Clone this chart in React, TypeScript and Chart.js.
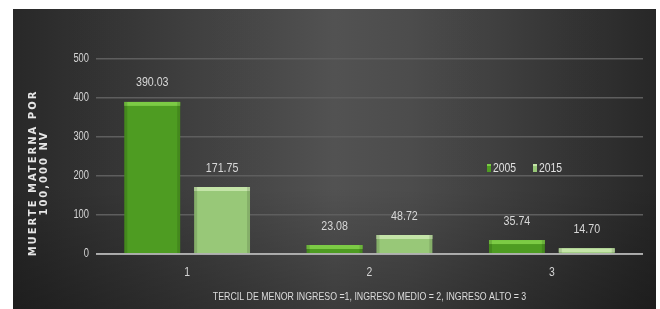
import React, { useEffect, useRef } from "react";
import { Chart, registerables } from "chart.js";

Chart.register(...registerables);

const categories = ["1", "2", "3"];
const seriesNames = ["2005", "2015"];
const values2005 = [390.03, 23.08, 35.74];
const values2015 = [171.75, 48.72, 14.7];
const yTickValues = [0, 100, 200, 300, 400, 500];
const yTitleLines = ["MUERTE MATERNA POR", "100,000 NV"];
const xTitle = "TERCIL DE MENOR INGRESO =1, INGRESO MEDIO = 2, INGRESO ALTO = 3";

const FONT = "'Liberation Sans', 'DejaVu Sans', sans-serif";
const COLOR_2005 = "#4e9c22";
const COLOR_2015 = "#98c878";
const TOP_2005 = "#7ccb45";
const TOP_2015 = "#c4e4a8";

function narrowText(ctx: any, text: string, x: number, y: number, size: number, color: string, align: string, sx: number) {
  ctx.save();
  ctx.translate(x, y);
  ctx.scale(sx, 1);
  ctx.font = `${size}px ${FONT}`;
  ctx.fillStyle = color;
  ctx.textAlign = align;
  ctx.textBaseline = "middle";
  ctx.fillText(text, 0, 0);
  ctx.restore();
}

const bgPlugin = {
  id: "bgPlugin",
  beforeDraw(chart: any) {
    const { ctx, width, height } = chart;
    ctx.save();
    const g = ctx.createLinearGradient(0, 0, width, 0);
    g.addColorStop(0, "#2a2a2a");
    g.addColorStop(0.5, "#565656");
    g.addColorStop(0.62, "#505050");
    g.addColorStop(1, "#292929");
    ctx.fillStyle = g;
    ctx.fillRect(0, 0, width, height);
    const v = ctx.createLinearGradient(0, 0, 0, height);
    v.addColorStop(0, "rgba(0,0,0,0.05)");
    v.addColorStop(0.6, "rgba(0,0,0,0.05)");
    v.addColorStop(1, "rgba(0,0,0,0.3)");
    ctx.fillStyle = v;
    ctx.fillRect(0, 0, width, height);
    ctx.restore();
  },
};

const decorPlugin = {
  id: "decorPlugin",
  afterDatasetsDraw(chart: any) {
    const { ctx, chartArea } = chart;
    const xs = chart.scales.x;
    const ys = chart.scales.y;
    ctx.save();
    chart.data.datasets.forEach((ds: any, di: number) => {
      const meta = chart.getDatasetMeta(di);
      meta.data.forEach((bar: any, i: number) => {
        const half = bar.width / 2;
        ctx.fillStyle = di === 0 ? TOP_2005 : TOP_2015;
        ctx.fillRect(bar.x - half, bar.y, bar.width, Math.min(4, bar.base - bar.y));
        ctx.fillStyle = "rgba(0,0,0,0.12)";
        ctx.fillRect(bar.x - half, bar.y, 3, bar.base - bar.y);
        ctx.fillRect(bar.x + half - 3, bar.y, 3, bar.base - bar.y);
        narrowText(ctx, Number(ds.data[i]).toFixed(2), bar.x, bar.y - 19, 13, "#d8d8d8", "center", 0.82);
      });
    });
    const y0 = ys.getPixelForValue(0);
    ctx.strokeStyle = "#c8c8c8";
    ctx.lineWidth = 1.5;
    ctx.beginPath();
    ctx.moveTo(chartArea.left, y0);
    ctx.lineTo(chartArea.right, y0);
    ctx.stroke();
    ys.ticks.forEach((t: any) => {
      narrowText(ctx, String(t.value), chartArea.left - 7, ys.getPixelForValue(t.value), 12, "#d4d4d4", "right", 0.78);
    });
    categories.forEach((c, i) => {
      narrowText(ctx, c, xs.getPixelForValue(i), 263, 13, "#d4d4d4", "center", 0.8);
    });
    ctx.fillStyle = "#e6e6e6";
    ctx.font = `bold 10px 'DejaVu Sans', sans-serif`;
    ctx.textAlign = "center";
    ctx.textBaseline = "middle";
    (ctx as any).letterSpacing = "2px";
    yTitleLines.forEach((line, li) => {
      ctx.save();
      ctx.translate(20 + li * 11, 164);
      ctx.rotate(-Math.PI / 2);
      ctx.fillText(line, 0, 0);
      ctx.restore();
    });
    (ctx as any).letterSpacing = "0px";
    narrowText(ctx, xTitle, (chartArea.left + chartArea.right) / 2, 288, 11, "#dcdcdc", "center", 0.8);
    const ly = 159;
    const items = [
      { x: 474, color: COLOR_2005, top: TOP_2005 },
      { x: 520, color: COLOR_2015, top: TOP_2015 },
    ];
    items.forEach((it, k) => {
      ctx.fillStyle = it.color;
      ctx.fillRect(it.x, ly - 4, 4, 8);
      ctx.fillStyle = it.top;
      ctx.fillRect(it.x, ly - 4, 4, 2);
      narrowText(ctx, seriesNames[k], it.x + 6, ly, 13, "#e0e0e0", "left", 0.8);
    });
    ctx.restore();
  },
};

export default function App() {
  const ref = useRef<HTMLCanvasElement | null>(null);
  useEffect(() => {
    if (!ref.current) return;
    const chart = new Chart(ref.current, {
      type: "bar",
      data: {
        labels: categories,
        datasets: [
          { label: seriesNames[0], data: values2005, backgroundColor: COLOR_2005, borderWidth: 0 },
          { label: seriesNames[1], data: values2015, backgroundColor: COLOR_2015, borderWidth: 0 },
        ],
      },
      options: {
        responsive: false,
        animation: false,
        events: [],
        categoryPercentage: 0.766,
        barPercentage: 0.8,
        layout: { padding: { top: 50, right: 13, left: 0, bottom: 0 } },
        plugins: { legend: { display: false }, tooltip: { enabled: false }, title: { display: false } },
        scales: {
          x: {
            grid: { display: false, drawTicks: false },
            border: { display: false },
            ticks: { color: "rgba(0,0,0,0)", font: { size: 12 }, padding: 12 },
            afterFit: (s: any) => { s.height = 55; },
          },
          y: {
            min: 0,
            max: 500,
            afterBuildTicks: (s: any) => { s.ticks = yTickValues.map((v) => ({ value: v })); },
            grid: { color: "#5e5e5e", lineWidth: 1.5, drawTicks: false },
            border: { display: false },
            ticks: { color: "rgba(0,0,0,0)", font: { size: 12 }, padding: 8 },
            afterFit: (s: any) => { s.width = 83; },
          },
        },
      },
      plugins: [bgPlugin, decorPlugin],
    } as any);
    return () => chart.destroy();
  }, []);
  return (
    <div style={{ position: "absolute", left: 0, top: 0, width: 660, height: 309, background: "#ffffff" }}>
      <canvas ref={ref} width={643} height={300} style={{ position: "absolute", left: 13, top: 9, width: 643, height: 300 }} />
    </div>
  );
}
